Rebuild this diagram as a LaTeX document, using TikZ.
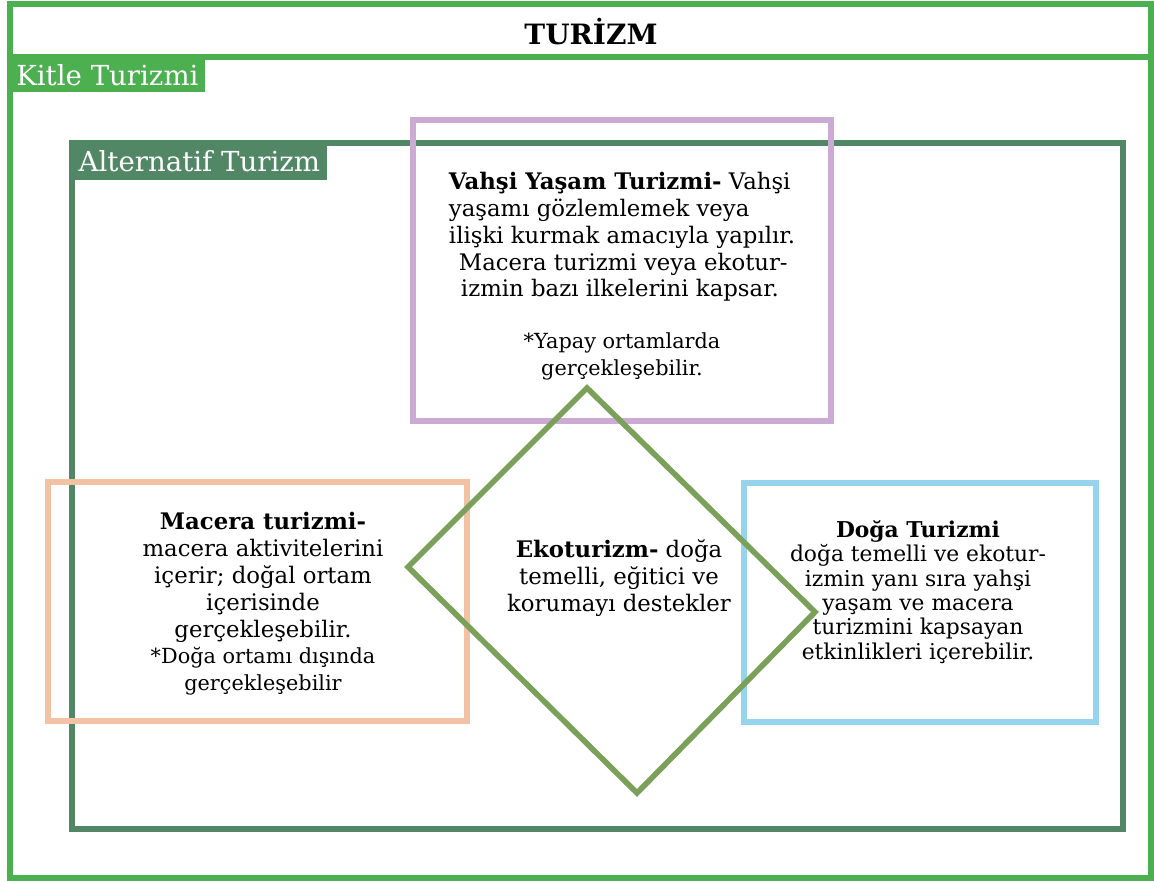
\documentclass[tikz,border=0pt]{standalone}
\usepackage{fontspec}
\setmainfont{DejaVu Serif}
\usetikzlibrary{fit,positioning}
\definecolor{kitleyesil}{RGB}{76,175,80}
\definecolor{altyesil}{RGB}{82,135,102}
\definecolor{mor}{RGB}{203,170,212}
\definecolor{turuncu}{RGB}{242,194,164}
\definecolor{mavi}{RGB}{150,212,238}
\definecolor{ekoyesil}{RGB}{122,160,90}

\begin{document}
\begin{tikzpicture}[x=0.5pt, y=-0.5pt,
  kutu/.style={draw=#1, line width=2.6pt, inner sep=0pt},
  etiket/.style={fill=#1, text=white, font=\fontsize{13.8}{15}\selectfont, inner sep=0pt, anchor=north west},
  metin/.style={align=center, font=\fontsize{11.4}{13.4}\selectfont, inner sep=0pt},
  elmas/.style={draw=ekoyesil, line width=2.8pt, line join=miter}]
\useasboundingbox (0,0) rectangle (1154,881);
\node [kutu=kitleyesil, fit={(10,57) (1151,878)}] (kitle) {};
\node [kutu=kitleyesil, fit={(10,4) (1151,57)}] (baslik) {};
\node [font=\bfseries\fontsize{14}{16}\selectfont] (turizm) at (591,32) {TURİZM};
\node [etiket=kitleyesil, minimum width=98pt, minimum height=17pt] (kitleadi) at (9,58) {Kitle Turizmi};
\node [kutu=altyesil, fit={(72,143) (1123,829)}] (alternatif) {};
\node [etiket=altyesil, minimum width=128pt, minimum height=19pt] (alternatifadi) at (71,142) {Alternatif Turizm};
\node [kutu=mor, fit={(413,120) (831,421)}] (vahsi) {};
\node [kutu=turuncu, fit={(48,482) (467,721)}] (macera) {};
\node [kutu=mavi, fit={(744,483) (1096,722)}] (doga) {};
\coordinate (ekoust) at (587,388);
\coordinate (ekosag) at (815,612);
\coordinate (ekoalt) at (637,793);
\coordinate (ekosol) at (408,567);
\draw [elmas] (ekoust) -- (ekosag) -- (ekoalt) -- (ekosol) -- cycle;
\node [metin, align=left] (vahsimetin) at (622,237) {\textbf{Vahşi Yaşam Turizmi-} Vahşi\\yaşamı gözlemlemek veya\\ilişki kurmak amacıyla yapılır.\\\hspace*{5pt}Macera turizmi veya ekotur-\\\hspace*{6pt}izmin bazı ilkelerini kapsar.};
\node [metin, font=\fontsize{10.4}{13.4}\selectfont, below=15pt of vahsimetin] (vahsinot) {*Yapay ortamlarda\\gerçekleşebilir.};
\node [metin] (macerametin) at (263,604) {\textbf{Macera turizmi-}\\macera aktivitelerini\\içerir; doğal ortam\\içerisinde\\gerçekleşebilir.\\{\fontsize{10.4}{13}\selectfont *Doğa ortamı dışında}\\{\fontsize{10.4}{13}\selectfont gerçekleşebilir}};
\node [metin] (ekometin) at (619,578) {\textbf{Ekoturizm-} doğa\\temelli, eğitici ve\\korumayı destekler};
\node [metin, font=\fontsize{10.9}{12.2}\selectfont] (dogametin) at (918,592) {\textbf{Doğa Turizmi}\\doğa temelli ve ekotur-\\izmin yanı sıra yahşi\\yaşam ve macera\\turizmini kapsayan\\etkinlikleri içerebilir.};
\end{tikzpicture}
\end{document}
